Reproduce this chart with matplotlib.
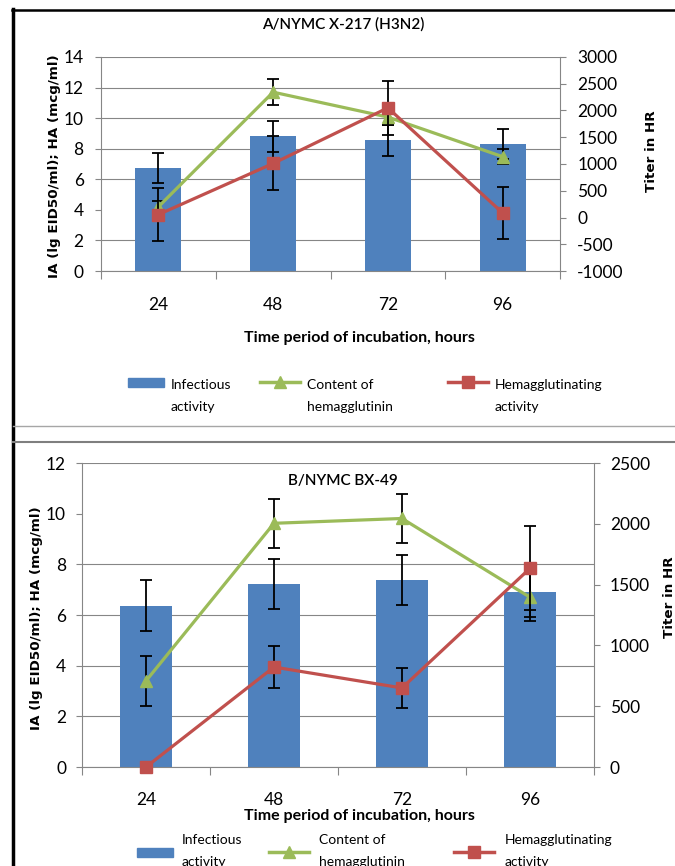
import numpy as np
import matplotlib.pyplot as plt
from matplotlib.lines import Line2D
from matplotlib.patches import Rectangle

plt.rcParams['font.family'] = ['Lato', 'DejaVu Sans']
plt.rcParams['axes.unicode_minus'] = False

W, H = 675, 866
hours = ["24", "48", "72", "96"]
legend_labels = ["Infectious\nactivity", "Content of\nhemagglutinin", "Hemagglutinating\nactivity"]

# A/NYMC X-217 (H3N2)
a_ia = [6.75, 8.8, 8.55, 8.3]
a_ia_err = [1.0, 1.0, 1.0, 1.0]
a_ha = [4.2, 11.7, 10.07, 7.48]
a_ha_err = [0.35, 0.87, 0.5, 0.5]
a_hr = [55, 1010, 2050, 85]
a_hr_err = [490, 505, 505, 490]

# B/NYMC BX-49
b_ia = [6.37, 7.23, 7.38, 6.92]
b_ia_err = [1.02, 1.0, 1.0, 1.0]
b_ha = [3.4, 9.62, 9.81, 6.7]
b_ha_err = [1.0, 0.96, 0.96, 0.94]
b_hr = [0, 822, 650, 1634]
b_hr_err = [0, 170, 165, 345]

BLUE = "#4F81BD"
GREEN = "#9BBB59"
RED = "#C0504D"
GRAY = "#868686"

fig = plt.figure(figsize=(6.75, 8.66), dpi=100)


def fx(x):
    return x / W


def fy(y):
    return 1 - y / H


def panel(px, ia, ia_err, ha, ha_err, hr, hr_err, llim, lstep, rlim, rstep,
          skip, ypad, xpad, ylab_x, rlab_x):
    l, t, r, b = px
    ax = fig.add_axes([fx(l), fy(b), (r - l) / W, (b - t) / H])
    x = np.arange(len(hours))
    eb = dict(fmt='none', ecolor='black', elinewidth=1.3, capsize=4.5, capthick=1.3)

    ax.bar(x, ia, 0.4, color=BLUE, zorder=2)
    ax.errorbar(x, ia, yerr=ia_err, zorder=3, **eb)
    ax.errorbar(x, ha, yerr=ha_err, zorder=3, **eb)
    ax.plot(x, ha, color=GREEN, lw=2.3, marker='^', ms=9, zorder=4, clip_on=False)

    ax.set_xlim(-0.5, len(hours) - 0.5)
    ax.set_ylim(*llim)
    ax.set_yticks(np.arange(llim[0], llim[1] + 0.01, lstep))
    ax.set_xticks(np.arange(-0.5, len(hours), 1))
    ax.set_xticklabels([])
    ax.set_xticks(x, minor=True)
    ax.set_xticklabels(hours, minor=True)
    ax.tick_params(axis='x', which='minor', length=0, pad=xpad, labelsize=12.5)
    ax.tick_params(axis='x', which='major', length=6, width=0.8, color=GRAY)
    ax.tick_params(axis='y', length=4, width=0.8, color=GRAY, labelsize=12.5, pad=ypad)
    ax.grid(axis='y', color=GRAY, lw=0.8)
    ax.set_axisbelow(True)
    for s in ['top', 'right']:
        ax.spines[s].set_visible(False)
    for s in ['left', 'bottom']:
        ax.spines[s].set_color(GRAY)
        ax.spines[s].set_linewidth(0.8)
    for val, tk in zip(ax.get_yticks(), ax.yaxis.get_major_ticks()):
        if val == skip:
            tk.tick1line.set_visible(False)
            tk.gridline.set_visible(False)

    ax.set_ylabel("IA (lg EID50/ml); HA (mcg/ml)", fontfamily='DejaVu Sans',
                  fontweight='bold', fontsize=9.7)
    ax.yaxis.set_label_coords(ylab_x, 0.49)
    ax.yaxis.label.set_va('center')

    ax2 = ax.twinx()
    ax2.errorbar(x, hr, yerr=hr_err, zorder=3, **eb)
    ax2.plot(x, hr, color=RED, lw=2.3, marker='s', ms=8.5, zorder=4, clip_on=False)
    ax2.set_ylim(*rlim)
    ax2.set_yticks(np.arange(rlim[0], rlim[1] + 0.01, rstep))
    ax2.tick_params(axis='y', length=4, width=0.8, color=GRAY, labelsize=12.5, pad=ypad)
    for s in ['top', 'left', 'bottom']:
        ax2.spines[s].set_visible(False)
    ax2.spines['right'].set_color(GRAY)
    ax2.spines['right'].set_linewidth(0.8)
    ax2.set_ylabel("Titer in HR", fontfamily='DejaVu Sans', fontweight='bold', fontsize=9.7)
    ax2.yaxis.set_label_coords(rlab_x, 0.56)
    ax2.yaxis.label.set_va('center')
    return ax, ax2


def legend(y1, y2, yh, hx, tx):
    # blue patch
    fig.add_artist(Rectangle((fx(hx[0]), fy(yh + 4.5)), 36 / W, 9 / H,
                             color=BLUE, transform=fig.transFigure))
    for i, (c, m) in enumerate([(GREEN, '^'), (RED, 's')], start=1):
        fig.add_artist(Line2D([fx(hx[i]), fx(hx[i] + 40)], [fy(yh), fy(yh)],
                              color=c, lw=2.5, transform=fig.transFigure))
        fig.add_artist(Line2D([fx(hx[i] + 20)], [fy(yh)], color=c, marker=m, ms=8,
                              transform=fig.transFigure))
    for xt, lab in zip(tx, legend_labels):
        first, second = lab.split("\n")
        fig.text(fx(xt), fy(y1), first, ha='left', va='center', fontsize=10)
        fig.text(fx(xt), fy(y2), second, ha='left', va='center', fontsize=10)


# top panel
panel((101, 57, 560, 271), a_ia, a_ia_err, a_ha, a_ha_err, a_hr, a_hr_err,
      (0, 14), 2, (-1000, 3000), 500, 4, 8.5, 18.5, -0.102, 1.20)
fig.text(fx(343), fy(24), "A/NYMC X-217 (H3N2)", ha='center', va='center',
         fontsize=11, fontweight='semibold')
fig.text(fx(359), fy(338), "Time period of incubation, hours", ha='center',
         va='center', fontsize=11.5, fontweight='bold')
legend(385, 407, 382, [128, 260, 448], [171, 307, 495])

# bottom panel
panel((82, 463, 594, 767), b_ia, b_ia_err, b_ha, b_ha_err, b_hr, b_hr_err,
      (0, 12), 2, (0, 2500), 500, 10, 7.5, 18, -0.088, 1.147)
fig.text(fx(343), fy(481), "B/NYMC BX-49", ha='center', va='center',
         fontsize=11, fontweight='semibold')
fig.text(fx(359), fy(816), "Time period of incubation, hours", ha='center',
         va='center', fontsize=11.5, fontweight='bold')
legend(840, 862, 852, [137, 269, 454], [182, 319, 505])

# frame lines
fig.add_artist(Line2D([fx(13), fx(13)], [fy(9), 0], color='black', lw=2.5))
fig.add_artist(Line2D([fx(12), 1], [fy(10), fy(10)], color='black', lw=1.8))
fig.add_artist(Line2D([fx(13), 1], [fy(426), fy(426)], color='#a6a6a6', lw=1))
fig.add_artist(Line2D([fx(13), 1], [fy(442), fy(442)], color='#7f7f7f', lw=1.5))

plt.savefig("out.png", dpi=100)
plt.close()
